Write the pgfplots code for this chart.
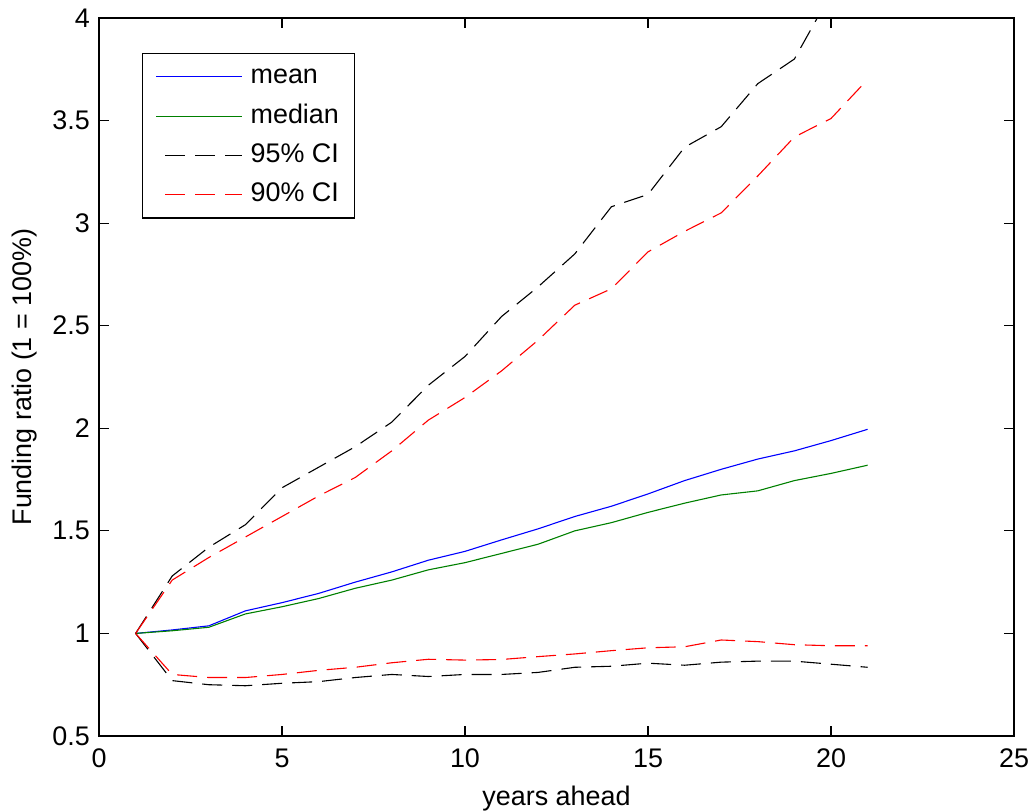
\documentclass[border=0pt]{standalone}
\usepackage{pgfplots}
\pgfplotsset{compat=1.18}
\usepackage{fontspec}
\setmainfont{Liberation Sans}
\begin{document}
\fontsize{27}{32}\selectfont
\begin{tikzpicture}
\begin{axis}[
  name=main,
  scale only axis,
  width=915bp, height=718bp,
  xmin=0, xmax=25, ymin=0.5, ymax=4,
  xtick={0,5,10,15,20,25},
  ytick={0.5,1,1.5,2,2.5,3,3.5,4},
  yticklabels={0.5,1,1.5,2,2.5,3,3.5,4},
  /pgf/number format/assume math mode=true,
  tick align=inside,
  xtick pos=both, ytick pos=both,
  major tick length=10bp,
  axis line style={line width=1.4bp},
  every tick/.style={line width=1.1bp, black},
  tick label style={font=\fontsize{27}{32}\selectfont},
  xticklabel style={yshift=-4bp},
  xlabel={years ahead},
  ylabel={Funding ratio (1 = 100\%)},
  label style={font=\fontsize{27}{32}\selectfont},
  xlabel style={yshift=0bp},
  ylabel style={yshift=-3bp},
  legend style={at={(142bp-99bp,718bp-35bp)}, anchor=north west, draw=black, line width=1.1bp,
    font=\fontsize{27}{32}\selectfont, inner xsep=13bp, inner ysep=10bp,
    row sep=12.5bp, column sep=5bp,
    nodes={text height=0.72em, text depth=0.2em, inner xsep=3bp, inner ysep=1bp},
    cells={anchor=west}},
  legend image code/.code={\draw[#1, line width=1.1bp, dash phase=21bp] (0bp,0bp) -- (86bp,0bp);},
  legend cell align=left,
]
\addplot[blue, line width=1.1bp] coordinates {
(1,1.00) (2,1.017) (3,1.037) (4,1.11) (5,1.15) (6,1.195) (7,1.25) (8,1.30) (9,1.357) (10,1.40)
(11,1.456) (12,1.51) (13,1.57) (14,1.62) (15,1.68) (16,1.745) (17,1.80) (18,1.85) (19,1.89) (20,1.94) (21,1.995)};
\addlegendentry{mean}
\addplot[green!50!black, line width=1.1bp] coordinates {
(1,1.00) (2,1.013) (3,1.03) (4,1.095) (5,1.13) (6,1.17) (7,1.22) (8,1.26) (9,1.31) (10,1.345)
(11,1.39) (12,1.435) (13,1.50) (14,1.54) (15,1.59) (16,1.635) (17,1.675) (18,1.695) (19,1.745) (20,1.78) (21,1.82)};
\addlegendentry{median}
\addplot[black, line width=1.1bp, dash pattern=on 20bp off 10bp] coordinates {
(1,1.00) (2,1.28) (3,1.42) (4,1.53) (5,1.71) (6,1.81) (7,1.91) (8,2.03) (9,2.21) (10,2.35)
(11,2.545) (12,2.69) (13,2.85) (14,3.08) (15,3.14) (16,3.37) (17,3.47) (18,3.68) (19,3.80) (20,4.12) (21,4.35)};
\addlegendentry{95\% CI}
\addplot[red, line width=1.1bp, dash pattern=on 20bp off 10bp] coordinates {
(1,1.00) (2,1.26) (3,1.37) (4,1.47) (5,1.57) (6,1.67) (7,1.76) (8,1.89) (9,2.04) (10,2.15)
(11,2.28) (12,2.43) (13,2.60) (14,2.68) (15,2.86) (16,2.96) (17,3.05) (18,3.23) (19,3.42) (20,3.51) (21,3.70)};
\addlegendentry{90\% CI}
\addplot[black, line width=1.1bp, dash pattern=on 20bp off 10bp, forget plot] coordinates {
(1,1.00) (2,0.77) (3,0.75) (4,0.745) (5,0.757) (6,0.765) (7,0.785) (8,0.80) (9,0.79) (10,0.80)
(11,0.80) (12,0.81) (13,0.835) (14,0.84) (15,0.855) (16,0.845) (17,0.86) (18,0.865) (19,0.865) (20,0.85) (21,0.835)};
\addplot[red, line width=1.1bp, dash pattern=on 20bp off 10bp, forget plot] coordinates {
(1,1.00) (2,0.80) (3,0.785) (4,0.785) (5,0.80) (6,0.82) (7,0.835) (8,0.857) (9,0.874) (10,0.87)
(11,0.873) (12,0.887) (13,0.90) (14,0.916) (15,0.93) (16,0.935) (17,0.968) (18,0.96) (19,0.945) (20,0.94) (21,0.94)};
\end{axis}
\pgfresetboundingbox
\path ([xshift=-99bp,yshift=-76bp]main.south west) rectangle ([xshift=14bp,yshift=18bp]main.north east);
\end{tikzpicture}
\end{document}
